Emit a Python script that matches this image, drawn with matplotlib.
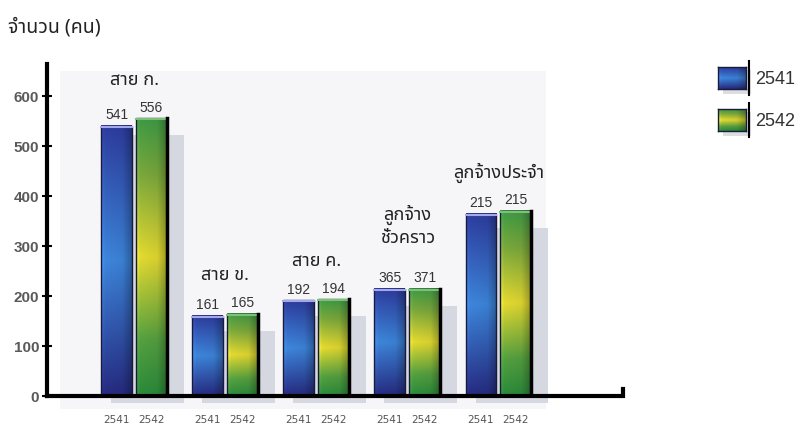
import numpy as np
import matplotlib
matplotlib.use('Agg')
import matplotlib.pyplot as plt
from matplotlib.patches import Rectangle
from matplotlib.lines import Line2D
from matplotlib.colors import to_rgb

# ข้อมูลจากรูป
categories = ['สาย ก.', 'สาย ข.', 'สาย ค.', 'ลูกจ้าง\nชั่วคราว', 'ลูกจ้างประจำ']
years = ['2541', '2542']
values_2541 = [541, 161, 192, 215, 365]
values_2542 = [556, 165, 194, 215, 371]
# ตัวเลขที่พิมพ์ไว้บนแท่ง (ตามที่ปรากฏในรูป)
labels_2541 = ['541', '161', '192', '365', '215']
labels_2542 = ['556', '165', '194', '371', '215']
yticks = [0, 100, 200, 300, 400, 500, 600]

THAI = ['Noto Sans Thai', 'DejaVu Sans']
NUM = ['Liberation Sans', 'DejaVu Sans']

blue_stops = ([0, 0.5, 1], ['#2d3c9e', '#3d86dc', '#262a80'])
green_stops = ([0, 0.2, 0.5, 0.8, 1], ['#3f9a44', '#7aa83c', '#e4da30', '#55a040', '#2a8a3a'])


def gradient(stops, n=120, m=24):
    pos, cols = stops
    cols = np.array([to_rgb(c) for c in cols])
    t = np.linspace(0, 1, n)
    rgb = np.stack([np.interp(t, pos, cols[:, k]) for k in range(3)], axis=-1)
    u = np.linspace(0, 1, m)
    shade = np.interp(u, [0, 0.12, 0.7, 1], [1.12, 1.0, 0.95, 0.72])
    img = rgb[:, None, :] * shade[None, :, None]
    return np.clip(img, 0, 1)


W, H = 807, 427
fig = plt.figure(figsize=(W / 100, H / 100), dpi=100)
ax = fig.add_axes([47 / W, 1 - 397 / H, 597 / W, 332 / H])
xmin, xmax = -0.956, 5.6
ymax = 664

# พื้นหลังจาง ๆ
ax.add_patch(Rectangle((-0.81, -25), 5.33, 675, color='#f6f6f8', zorder=0, clip_on=False, lw=0))

off, width = 0.19, 0.34
x = np.arange(len(categories))
for i in range(len(categories)):
    tops = [values_2541[i], values_2542[i]]
    # เงาด้านหลังแท่ง
    ax.add_patch(Rectangle((i - 0.25, -14), 0.80, max(tops) - 20, color='#d5d8e0',
                           zorder=1, clip_on=False, lw=0))
    for j, (h, stops) in enumerate(zip(tops, [blue_stops, green_stops])):
        cx = i - off if j == 0 else i + off
        x0, x1 = cx - width / 2, cx + width / 2
        ax.imshow(gradient(stops), extent=[x0, x1, 0, h], aspect='auto',
                  origin='upper', zorder=3, interpolation='bilinear')
        ax.add_patch(Rectangle((x0, 0), width, h, fill=False, ec='#1a1a3a', lw=1, zorder=4))
        if j == 0:
            ax.plot([x0, x1], [h - 2, h - 2], color='#a4a8e8', lw=1.5, zorder=5)
        else:
            ax.plot([x0, x1], [h - 2, h - 2], color='#7cc07a', lw=1.5, zorder=5)
            ax.plot([x1, x1], [0, h], color='black', lw=2.5, zorder=5)
    ax.annotate(labels_2541[i], (i - off, values_2541[i]), xytext=(0, 3), textcoords='offset points',
                ha='center', va='bottom', fontsize=10, color='#333333', family=NUM)
    ax.annotate(labels_2542[i], (i + off, values_2542[i]), xytext=(0, 3), textcoords='offset points',
                ha='center', va='bottom', fontsize=10, color='#333333', family=NUM)
    nl = categories[i].count('\n')
    ax.text(i, max(tops) + 78 + 50 * nl, categories[i], ha='center', va='center',
            fontsize=13, color='#222222', family=THAI, linespacing=1.3)

# แกน
ax.plot([xmin, xmin], [0, ymax], color='black', lw=3, clip_on=False, zorder=6)
ax.plot([xmin, 5.37, 5.37], [0, 0, 14], color='black', lw=3, clip_on=False, zorder=6,
        solid_joinstyle='miter')
for s in ax.spines.values():
    s.set_visible(False)
ax.set_yticks(yticks)
ax.tick_params(axis='y', direction='inout', length=7, width=1.5, color='black',
               labelcolor='#5a5a5a', labelsize=11, pad=2)
for t in ax.get_yticklabels():
    t.set_fontweight('bold')
    t.set_family(NUM)
ax.set_xticks(np.concatenate([x - off, x + off]))
ax.set_xticklabels(years[:1] * len(x) + years[1:] * len(x))
ax.tick_params(axis='x', length=0, labelsize=7.5, labelcolor='#555555', pad=13)
ax.set_xlim(xmin, xmax)
ax.set_ylim(0, ymax)
ax.patch.set_visible(False)

# ชื่อแกน
fig.text(8 / W, 1 - 27 / H, 'จำนวน (คน)', ha='left', va='center', fontsize=14,
         family=THAI, fontweight='semibold', color='#222222')

# คำอธิบาย
for k, (yr, stops) in enumerate(zip(years, [blue_stops, green_stops])):
    top = 68 + 42 * k
    fig.add_artist(Rectangle((723 / W, 1 - (top + 27) / H), 28 / W, 24 / H,
                             transform=fig.transFigure, color='#dcdde3', lw=0, zorder=-1))
    sw = fig.add_axes([718 / W, 1 - (top + 22) / H, 28 / W, 22 / H])
    sw.set_zorder(2)
    sw.imshow(gradient(stops, 40, 20), aspect='auto', interpolation='bilinear')
    sw.set_xticks([])
    sw.set_yticks([])
    for s in sw.spines.values():
        s.set_color('#1a1a3a')
        s.set_linewidth(1)
    fig.add_artist(Line2D([749 / W, 749 / W], [1 - (top - 6) / H, 1 - (top + 28) / H],
                          transform=fig.transFigure, color='black', lw=1.5, zorder=3))
    fig.text(755 / W, 1 - (top + 11) / H, yr, ha='left', va='center', fontsize=13,
             color='#333333', family=NUM)

fig.savefig('out.png', dpi=100)
